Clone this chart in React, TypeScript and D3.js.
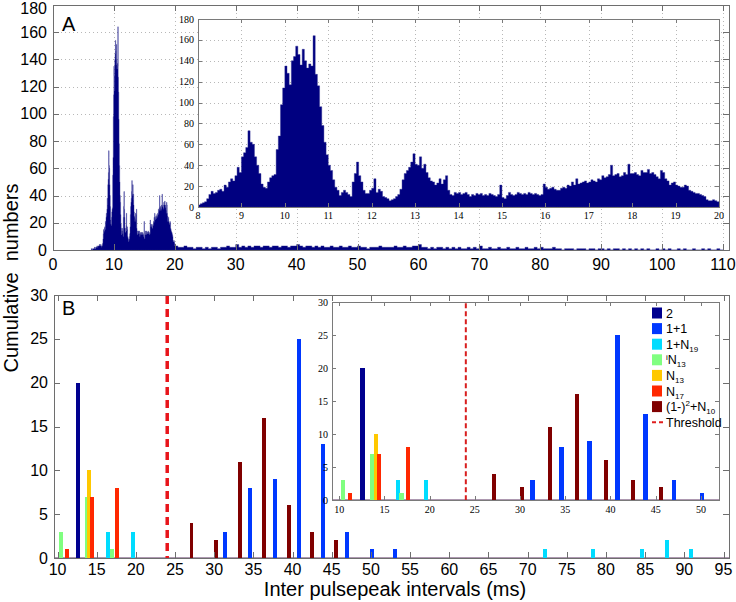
import React from 'react';
import * as d3 from 'd3';

const W = 736, H = 602;
const SANS = "'Liberation Sans', Arial, Helvetica, sans-serif";
const SERIF = "'Liberation Serif', 'Times New Roman', serif";

// ---------- Panel A : histogram (counts per bin) ----------
const onsetStart = 6.3, onsetStep = 0.1;
const onsetValues = [1, 0, 1, 1, 1, 2, 1, 2, 2, 3, 2, 3, 3, 4, 3, 4, 3];

const histStart = 8.0, histStep = 0.05;
const histValues = [
  2, 3, 4, 5, 8, 12, 15, 13, 14, 16, 17, 15, 21, 19, 24, 27, 25, 30, 38, 33,
  48, 52, 57, 73, 62, 60, 48, 40, 32, 22, 19, 18, 24, 28, 30, 31, 55, 68, 98, 114,
  135, 128, 117, 140, 144, 154, 146, 136, 151, 140, 133, 137, 135, 164, 127, 116, 96, 78, 62, 50,
  40, 35, 26, 19, 16, 11, 14, 16, 14, 12, 10, 24, 32, 43, 30, 24, 16, 13, 13, 16,
  18, 27, 14, 17, 15, 10, 9, 8, 6, 7, 8, 10, 12, 17, 26, 32, 35, 38, 43, 51,
  41, 40, 48, 37, 41, 33, 28, 25, 24, 21, 23, 27, 22, 26, 30, 16, 12, 11, 14, 13,
  14, 12, 13, 14, 12, 10, 12, 11, 13, 12, 13, 11, 12, 11, 13, 12, 11, 10, 12, 21,
  9, 8, 11, 14, 12, 11, 12, 14, 13, 12, 13, 12, 14, 13, 12, 13, 12, 11, 12, 22,
  19, 17, 18, 19, 17, 16, 16, 18, 19, 18, 21, 20, 24, 21, 27, 22, 23, 24, 25, 23,
  24, 26, 25, 24, 27, 26, 30, 28, 29, 31, 40, 30, 31, 32, 29, 30, 33, 31, 41, 32,
  32, 33, 31, 30, 35, 33, 33, 36, 32, 33, 31, 29, 27, 35, 33, 27, 25, 21, 23, 24,
  21, 20, 19, 19, 21, 20, 16, 15, 14, 13, 13, 12, 11, 10, 7, 6, 6, 7, 6, 5,
];

const tailStart = 20.0, tailStep = 0.5;
const tailValues = [
  3, 2, 2, 3, 2, 2, 1, 2, 2, 1, 2, 1, 2, 2, 1, 2, 2, 3, 2, 2,
  4, 2, 3, 2, 3, 2, 3, 3, 2, 3, 3, 2, 3, 3, 2, 3, 3, 2, 3, 3,
  4, 3, 2, 3, 3, 2, 3, 2, 3, 2, 2, 3, 2, 2, 3, 2, 2, 3, 2, 2,
  3, 2, 2, 1, 2, 2, 2, 3, 2, 2, 2, 2, 3, 2, 2, 3, 2, 2, 3, 3,
  4, 2, 2, 1, 2, 1, 2, 2, 1, 2, 1, 2, 1, 2, 1, 1, 2, 1, 2, 1,
  3, 1, 1, 2, 1, 1, 2, 1, 1, 2, 1, 1, 2, 1, 1, 2, 1, 1, 2, 1,
  2, 1, 1, 1, 2, 1, 1, 0, 1, 1, 1, 0, 1, 1, 1, 0, 1, 1, 0, 1,
  1, 0, 1, 0, 1, 1, 0, 1, 0, 1, 0, 1, 0, 1, 0, 1, 0, 0, 1, 0,
  1, 0, 1, 0, 0, 1, 0, 1, 0, 0, 1, 0, 0, 1, 0, 1, 0, 0, 1, 0,
];

const topXTicks = [0, 10, 20, 30, 40, 50, 60, 70, 80, 90, 100, 110];
const topYTicks = [0, 20, 40, 60, 80, 100, 120, 140, 160, 180];
const insXTicks = [8, 9, 10, 11, 12, 13, 14, 15, 16, 17, 18, 19, 20];
const insYTicks = [0, 20, 40, 60, 80, 100, 120, 140, 160, 180];

// ---------- Panel B : grouped bars ----------
const names = ['2', '1+1', '1+N19', 'iN13', 'N13', 'N17', '(1-)2+N10'];
const colors = ['#00008f', '#0038ff', '#00dcff', '#80ff80', '#ffc800', '#ff2800', '#800000'];
const x_2 = [12.6];
const v_2 = [20];
const x_11 = [31.4, 34.6, 37.7, 40.8, 43.9, 47.0, 50.1, 53.1];
const v_11 = [3, 8, 9, 25, 13, 3, 1, 1];
const x_1N19 = [16.5, 19.6, 72.2, 78.4, 84.6, 87.8, 90.9];
const v_1N19 = [3, 3, 1, 1, 1, 2, 1];
const x_iN13 = [10.4, 13.7, 16.9];
const v_iN13 = [3, 7, 1];
const x_N13 = [14.05];
const v_N13 = [10];
const x_N17 = [11.2, 14.4, 17.6];
const v_N17 = [1, 7, 8];
const x_1m = [27.1, 30.2, 33.3, 36.3, 39.5, 42.5, 45.6];
const v_1m = [4, 2, 11, 16, 6, 3, 2];
const seriesX = [x_2, x_11, x_1N19, x_iN13, x_N13, x_N17, x_1m];
const seriesV = [v_2, v_11, v_1N19, v_iN13, v_N13, v_N17, v_1m];
const threshold = 24;
const barWidth = 0.5;

const botXTicks = [10, 15, 20, 25, 30, 35, 40, 45, 50, 55, 60, 65, 70, 75, 80, 85, 90, 95];
const botYTicks = [0, 5, 10, 15, 20, 25, 30];
const biXTicks = [10, 15, 20, 25, 30, 35, 40, 45, 50];
const biYTicks = [0, 5, 10, 15, 20, 25, 30];

// ---------- scales ----------
const xA = d3.scaleLinear().domain([0, 111]).range([53, 729]);
const yA = d3.scaleLinear().domain([0, 180]).range([250, 5]);
const xAi = d3.scaleLinear().domain([8, 20]).range([198, 719]);
const yAi = d3.scaleLinear().domain([0, 180]).range([207, 19]);
const xB = d3.scaleLinear().domain([9.55, 95.7]).range([54, 729]);
const yB = d3.scaleLinear().domain([0, 30]).range([558, 295]);
const xBi = d3.scaleLinear().domain([9.2, 52]).range([332, 719]);
const yBi = d3.scaleLinear().domain([0, 30]).range([500, 302]);

type Bin = { x: number; v: number };
function bins(start: number, step: number, vals: number[]): Bin[] {
  return vals.map((v, i) => ({ x: start + i * step, v }));
}
function stepPoints(list: Bin[][], steps: number[]): Bin[] {
  const pts: Bin[] = [];
  list.forEach((arr, k) => {
    arr.forEach((b) => pts.push(b));
    const last = arr[arr.length - 1];
    pts.push({ x: last.x + steps[k], v: k < list.length - 1 ? list[k + 1][0].v : 0 });
  });
  return pts;
}

type Sc = d3.ScaleLinear<number, number>;

function Frame(p: {
  xs: Sc; ys: Sc; xt: number[]; yt: number[]; tick: number;
  fs: number; ff: string; xLabY: number; yLabX: number; color: string; gridX?: number[]; gridY?: number[];
  part: 'grid' | 'frame'; topPad?: number;
}) {
  const [x0, x1] = p.xs.range();
  const [yb, yt] = p.ys.range();
  if (p.part === 'grid') {
    return (
      <g shapeRendering="crispEdges">
        {(p.gridX || []).map((t) => (
          <line key={'gx' + t} x1={Math.round(p.xs(t)) + 0.5} x2={Math.round(p.xs(t)) + 0.5} y1={yb} y2={yt}
            stroke="#b8b8b8" strokeWidth={1} strokeDasharray="1,3" />
        ))}
        {(p.gridY || []).map((t) => (
          <line key={'gy' + t} x1={x0} x2={x1} y1={Math.round(p.ys(t)) + 0.5} y2={Math.round(p.ys(t)) + 0.5}
            stroke="#b8b8b8" strokeWidth={1} strokeDasharray="1,3" />
        ))}
      </g>
    );
  }
  const minY = yt + (p.topPad || 0);
  return (
    <g>
      <g shapeRendering="crispEdges" stroke={p.color} strokeWidth={1}>
        <rect x={x0 + 0.5} y={yt + 0.5} width={x1 - x0} height={yb - yt} fill="none" />
        {p.xt.map((t) => {
          const x = Math.round(p.xs(t)) + 0.5;
          return (
            <g key={'xt' + t}>
              <line x1={x} x2={x} y1={yb} y2={yb - p.tick} />
              <line x1={x} x2={x} y1={yt} y2={yt + p.tick} />
            </g>
          );
        })}
        {p.yt.map((t) => {
          const y = Math.round(p.ys(t)) + 0.5;
          return (
            <g key={'yt' + t}>
              <line x1={x0} x2={x0 + p.tick} y1={y} y2={y} />
              <line x1={x1} x2={x1 - p.tick} y1={y} y2={y} />
            </g>
          );
        })}
      </g>
      <g fontFamily={p.ff} fontSize={p.fs} fill="#000">
        {p.xt.map((t) => (
          <text key={'xl' + t} x={p.xs(t)} y={p.xLabY} textAnchor="middle" dominantBaseline="central">{t}</text>
        ))}
        {p.yt.map((t) => (
          <text key={'yl' + t} x={p.yLabX} y={Math.max(p.ys(t), minY)} textAnchor="end" dominantBaseline="central">{t}</text>
        ))}
      </g>
    </g>
  );
}

function Hist(p: { xs: Sc; ys: Sc; pts: Bin[] }) {
  const area = d3.area<Bin>()
    .x((d) => p.xs(d.x))
    .y0(p.ys(0))
    .y1((d) => p.ys(d.v))
    .curve(d3.curveStepAfter);
  return <path d={area(p.pts) || ''} fill="#000080" stroke="#2a2a90" strokeWidth={0.4} />;
}

function Bars(p: { xs: Sc; ys: Sc; maxX: number }) {
  return (
    <g shapeRendering="crispEdges">
      {seriesX.map((xsArr, s) =>
        xsArr.map((x, i) => {
          if (x > p.maxX) return null;
          const a = p.xs(x - barWidth / 2);
          const b = p.xs(x + barWidth / 2);
          const v = seriesV[s][i];
          return (
            <rect key={s + '-' + i} x={a} y={p.ys(v)} width={b - a} height={p.ys(0) - p.ys(v)} fill={colors[s]} />
          );
        })
      )}
    </g>
  );
}

function LegendLabel({ k }: { k: number }) {
  switch (k) {
    case 0: return <tspan>2</tspan>;
    case 1: return <tspan>1+1</tspan>;
    case 2: return <><tspan>1+N</tspan><tspan fontSize={8} dy={3}>19</tspan></>;
    case 3: return <><tspan fontSize={8} dy={-4}>i</tspan><tspan dy={4}>N</tspan><tspan fontSize={8} dy={3}>13</tspan></>;
    case 4: return <><tspan>N</tspan><tspan fontSize={8} dy={3}>13</tspan></>;
    case 5: return <><tspan>N</tspan><tspan fontSize={8} dy={3}>17</tspan></>;
    default: return <><tspan>(1-)</tspan><tspan fontSize={8} dy={-5}>2</tspan><tspan dy={5}>+N</tspan><tspan fontSize={8} dy={3}>10</tspan></>;
  }
}

export default function App() {
  const mainPts = stepPoints(
    [bins(onsetStart, onsetStep, onsetValues), bins(histStart, histStep, histValues), bins(tailStart, tailStep, tailValues)],
    [onsetStep, histStep, tailStep]
  );
  const insetPts = stepPoints([bins(histStart, histStep, histValues)], [histStep]);

  const gridXA = topXTicks.filter((t) => t > 0);
  const gridYA = topYTicks.filter((t) => t > 0);
  const gridXAi = insXTicks.filter((t) => t > 8 && t < 20);
  const gridYAi = insYTicks.filter((t) => t > 0);

  const legendY0 = 313, legendDy = 15.6;

  return (
    <svg width={W} height={H} style={{ position: 'absolute', left: 0, top: 0, background: '#fff' }}>
      <rect x={0} y={0} width={W} height={H} fill="#fff" />
      <defs>
        <clipPath id="clipA"><rect x={53} y={5} width={676} height={245} /></clipPath>
        <clipPath id="clipAi"><rect x={198} y={19} width={521} height={188} /></clipPath>
      </defs>

      {/* Panel A main */}
      <Frame part="grid" xs={xA} ys={yA} xt={topXTicks} yt={topYTicks} tick={6} fs={16} ff={SANS}
        xLabY={264} yLabX={47} color="#6e6e6e" gridX={gridXA} gridY={gridYA} />
      <g clipPath="url(#clipA)"><Hist xs={xA} ys={yA} pts={mainPts} /></g>
      <Frame part="frame" xs={xA} ys={yA} xt={topXTicks} yt={topYTicks} tick={6} fs={16} ff={SANS}
        xLabY={264} yLabX={47} color="#6e6e6e" topPad={3} />
      <text x={62} y={31} fontFamily={SANS} fontSize={20}>A</text>

      {/* Panel A inset */}
      <rect x={198} y={19} width={521} height={188} fill="#fff" />
      <Frame part="grid" xs={xAi} ys={yAi} xt={insXTicks} yt={insYTicks} tick={4} fs={10} ff={SERIF}
        xLabY={215} yLabX={194} color="#7a7a7a" gridX={gridXAi} gridY={gridYAi} />
      <g clipPath="url(#clipAi)"><Hist xs={xAi} ys={yAi} pts={insetPts} /></g>
      <Frame part="frame" xs={xAi} ys={yAi} xt={insXTicks} yt={insYTicks} tick={4} fs={10} ff={SERIF}
        xLabY={215} yLabX={194} color="#7a7a7a" />

      {/* Panel B main */}
      <line x1={xB(9.55)} x2={xB(95.7)} y1={yB(0)} y2={yB(0)} stroke="#5a3060" strokeWidth={1} />
      <Bars xs={xB} ys={yB} maxX={96} />
      <line x1={xB(threshold)} x2={xB(threshold)} y1={yB(29.9)} y2={yB(0)} stroke="#e8141a" strokeWidth={3.5}
        strokeDasharray="8,5" />
      <Frame part="frame" xs={xB} ys={yB} xt={botXTicks} yt={botYTicks} tick={6} fs={16} ff={SANS}
        xLabY={569} yLabX={48} color="#6e6e6e" />
      <text x={62} y={315} fontFamily={SANS} fontSize={20}>B</text>

      {/* Panel B inset */}
      <rect x={332} y={302} width={387} height={198} fill="#fff" />
      <line x1={xBi(9.2)} x2={xBi(52)} y1={yBi(0)} y2={yBi(0)} stroke="#5a3060" strokeWidth={1} />
      <Bars xs={xBi} ys={yBi} maxX={52} />
      <line x1={xBi(threshold)} x2={xBi(threshold)} y1={yBi(29.8)} y2={yBi(0)} stroke="#d81e1e" strokeWidth={2}
        strokeDasharray="5,3" />
      <Frame part="frame" xs={xBi} ys={yBi} xt={biXTicks} yt={biYTicks} tick={4} fs={10} ff={SERIF}
        xLabY={509} yLabX={328} color="#7a7a7a" />

      {/* Legend */}
      <g fontFamily={SANS} fontSize={12.5}>
        {names.map((n, k) => (
          <g key={n}>
            <rect x={652} y={legendY0 + k * legendDy - 5.5} width={10} height={11} fill={colors[k]} />
            <text x={666} y={legendY0 + k * legendDy + 4.5}><LegendLabel k={k} /></text>
          </g>
        ))}
        <line x1={652} x2={665} y1={legendY0 + 7 * legendDy} y2={legendY0 + 7 * legendDy} stroke="#e01e1e"
          strokeWidth={2} strokeDasharray="4,3" />
        <text x={666} y={legendY0 + 7 * legendDy + 4.5}>Threshold</text>
      </g>

      {/* Axis titles */}
      <text x={395} y={596} textAnchor="middle" fontFamily={SANS} fontSize={20}>Inter pulsepeak intervals (ms)</text>
      <text transform="translate(18,278) rotate(-90)" textAnchor="middle" fontFamily={SANS} fontSize={20}
        style={{ whiteSpace: 'pre' }}>{'Cumulative  numbers'}</text>
    </svg>
  );
}
